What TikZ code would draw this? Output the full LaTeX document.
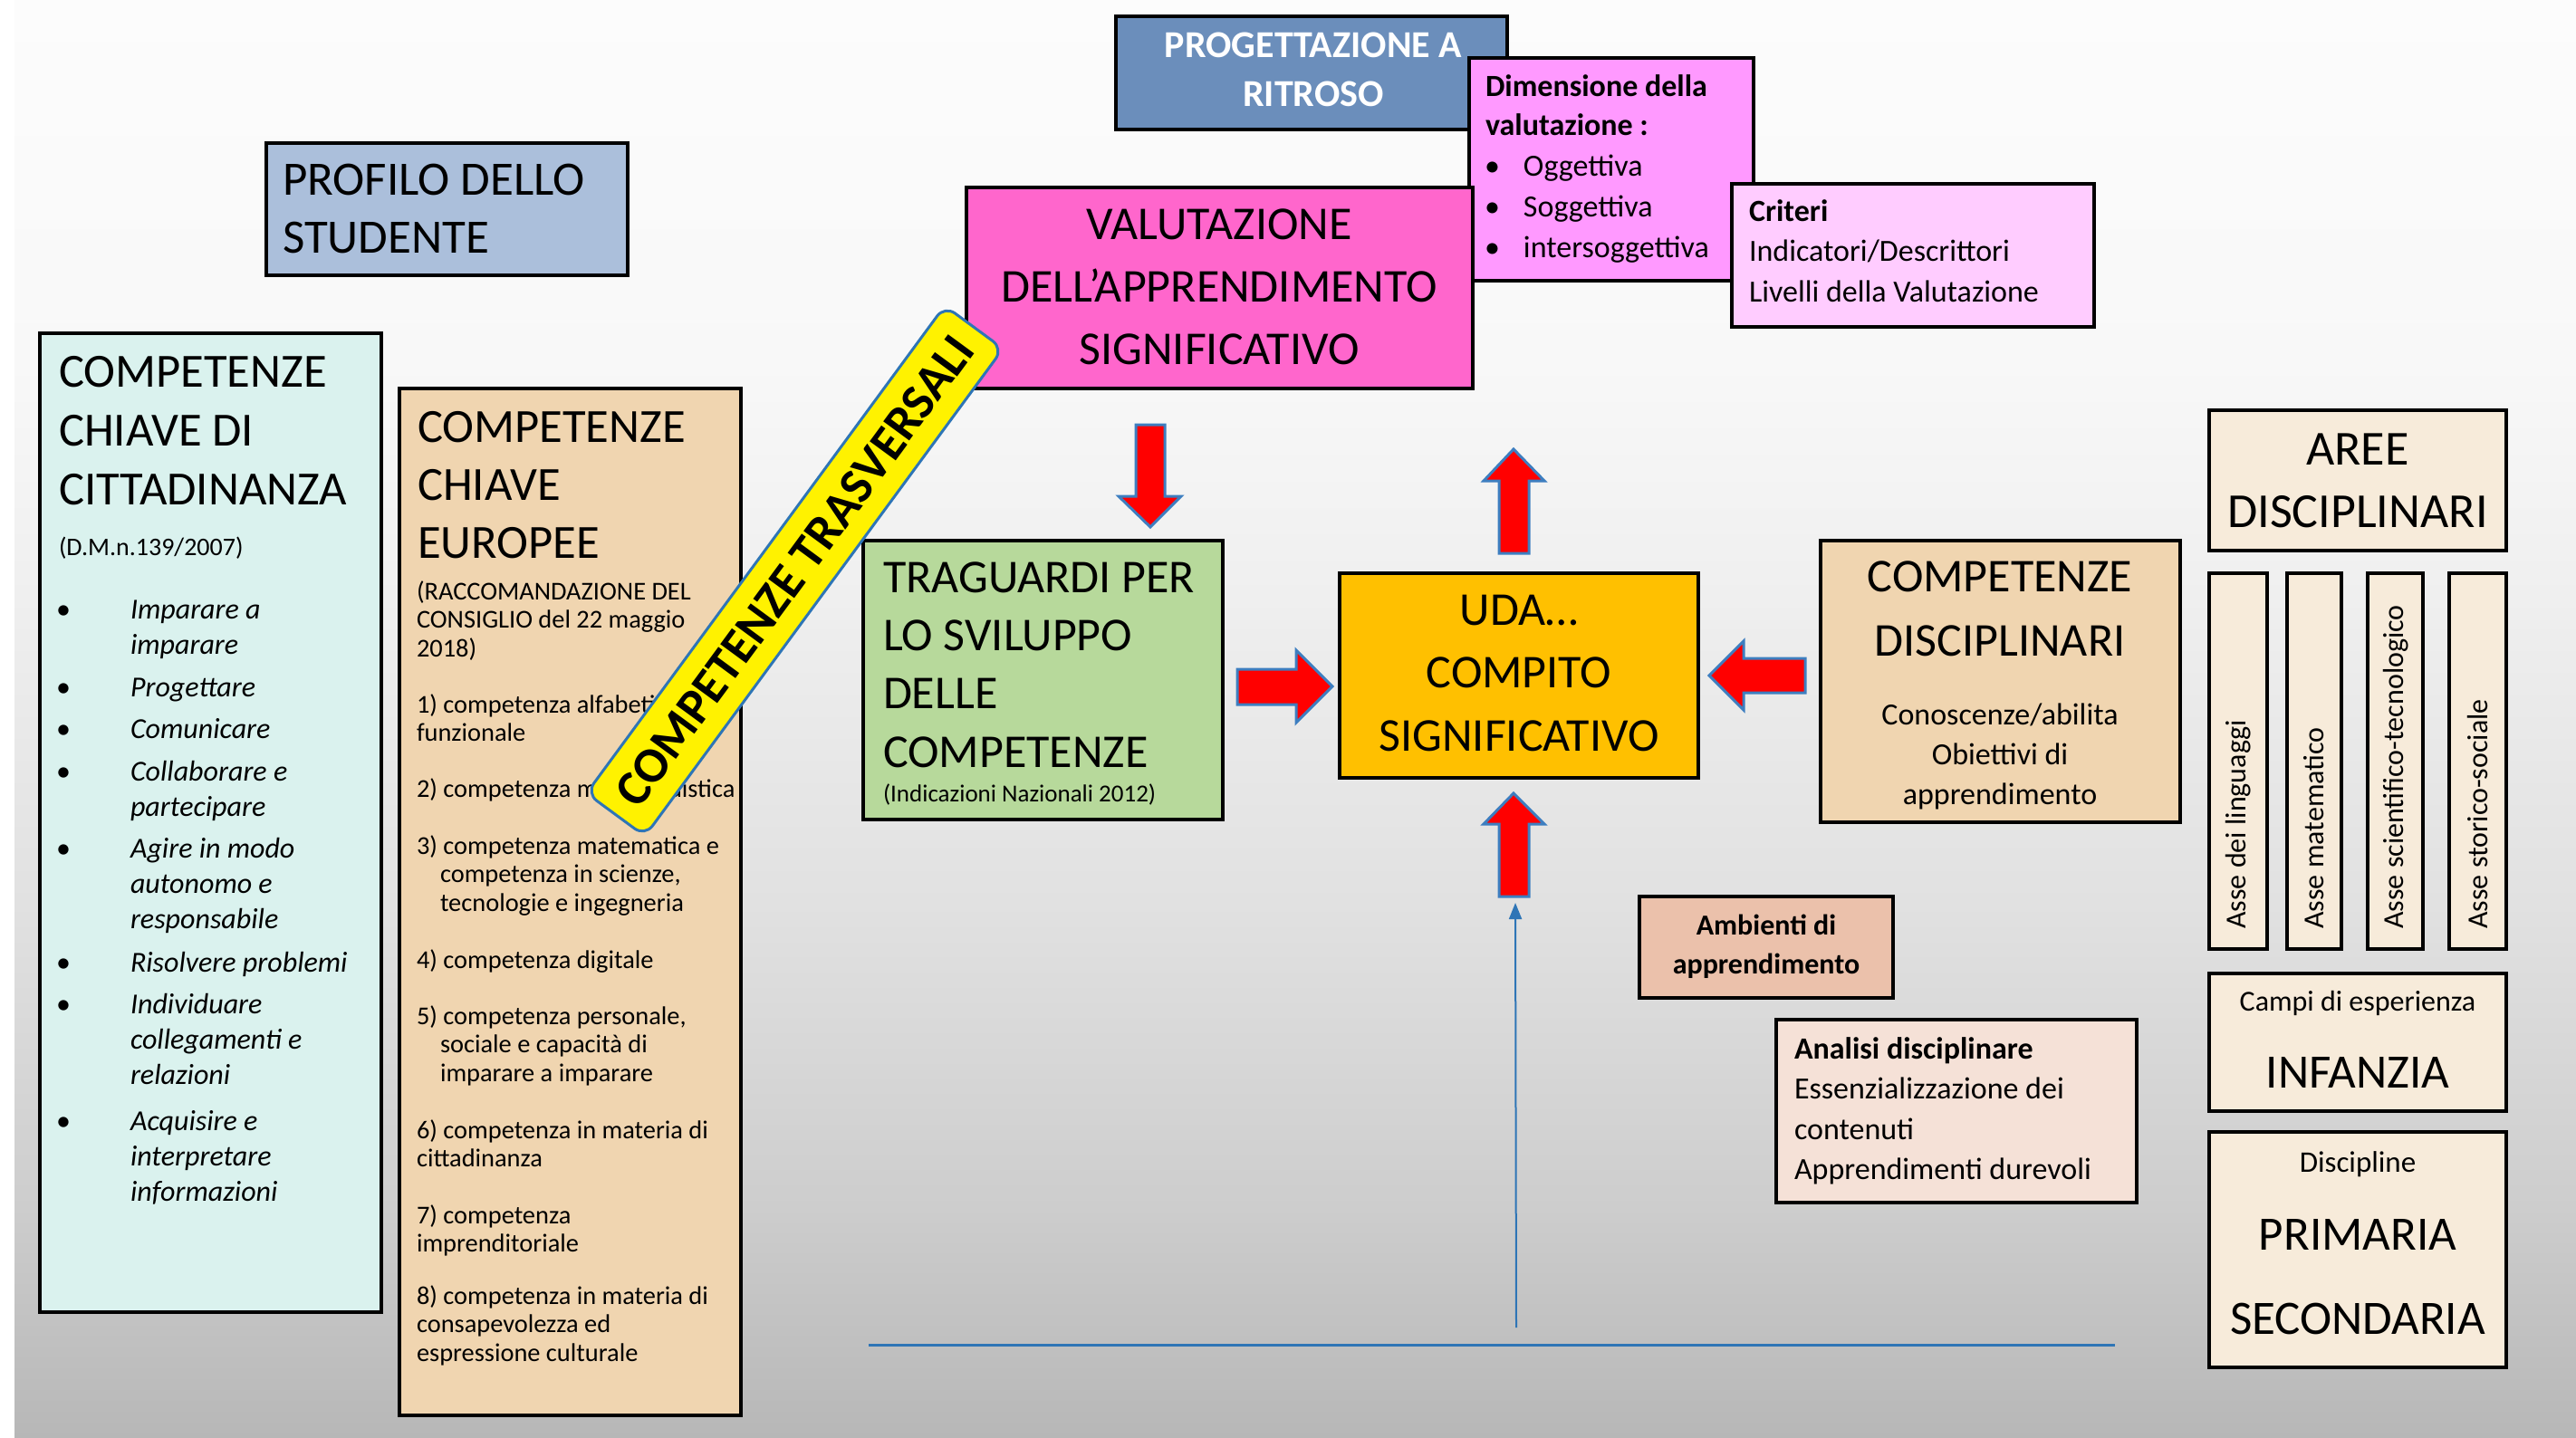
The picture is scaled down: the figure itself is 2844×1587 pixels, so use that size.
\documentclass[tikz,border=0pt]{standalone}
\usepackage{fontspec}
\setmainfont{Carlito}
\usetikzlibrary{arrows.meta}
\definecolor{bgA}{gray}{0.718}
\definecolor{bgB}{gray}{0.765}
\definecolor{bgC}{gray}{0.804}
\definecolor{bgD}{gray}{0.882}
\definecolor{bgE}{gray}{0.941}
\definecolor{bgF}{gray}{0.973}
\definecolor{bgG}{gray}{0.988}
\pgfdeclareverticalshading{bgshade}{100bp}{color(0bp)=(bgA); color(25bp)=(bgA); color(29.5bp)=(bgB); color(33bp)=(bgC); color(43.5bp)=(bgD); color(55bp)=(bgE); color(62.5bp)=(bgF); color(75bp)=(bgG); color(100bp)=(bgG)}
\definecolor{cProf}{HTML}{ABBFDB}
\definecolor{cCitt}{HTML}{DAF2EE}
\definecolor{cEuro}{HTML}{F0D5B0}
\definecolor{cProg}{HTML}{6B8EBB}
\definecolor{cDim}{HTML}{FF99FF}
\definecolor{cVal}{HTML}{FF66CC}
\definecolor{cCrit}{HTML}{FFCCFF}
\definecolor{cTrag}{HTML}{B7D99B}
\definecolor{cUda}{HTML}{FFC000}
\definecolor{cRight}{HTML}{F7EBDA}
\definecolor{cAmb}{HTML}{EBC1AB}
\definecolor{cAna}{HTML}{F5E1D7}
\definecolor{cBlue}{HTML}{2E75B6}
\definecolor{cArrow}{HTML}{3D7EC0}
\newcommand\fsz[2]{\fontsize{#1}{#2}\selectfont}
\newcommand\ML[1]{\begin{tabular}[t]{@{}l@{}}#1\end{tabular}}
\newcommand\MC[1]{\begin{tabular}[t]{@{}c@{}}#1\end{tabular}}
\newcommand\BL[1]{\begin{tabular}[t]{@{}l@{}l@{}}\makebox[41pt][l]{\upshape\textbullet}&#1\end{tabular}}
\newcommand\boxnode[6]{\node[box, fill=#2, minimum width={(#5-#3-4)*0.5pt}, minimum height={(#6-#4-4)*0.5pt}] (#1) at ({(#3+#5)/2},{(#4+#6)/2}) {};}
\tikzset{
  box/.style={draw=black, line width=2pt, inner sep=0pt, outer sep=0pt},
  t/.style={inner sep=0pt, outer sep=0pt, anchor=base west},
  tc/.style={inner sep=0pt, outer sep=0pt, anchor=base},
  blockarrow/.style={fill=red, draw=cArrow, line width=1.5pt, line join=miter},
  asse/.style={rotate=90, anchor=west, inner sep=0pt, font=\fsz{16}{18}}
}
\begin{document}
\begin{tikzpicture}[x=0.5pt, y=-0.5pt]
\useasboundingbox (0,0) rectangle (2844,1587);
\fill[white] (0,0) rectangle (2844,1587);
\shade[shading=bgshade] (16,0) rectangle (2844,1587);

% left column
\boxnode{profilo}{cProf}{292}{156}{695}{306}
\node[t, font=\fsz{26.5}{32}] (tprof) at (312,215) {\ML{PROFILO DELLO\\STUDENTE}};

\boxnode{citt}{cCitt}{42}{366}{423}{1451}
\node[t, font=\fsz{26.3}{32.5}] (tcitt) at (65,427) {\ML{COMPETENZE\\CHIAVE DI\\CITTADINANZA}};
\node[t, font=\fsz{14}{17}] (tdm) at (65,613) {(D.M.n.139/2007)};
\begin{scope}[every node/.style={t, font=\itshape\fsz{16}{19.5}}]
\node (ci1) at (62,683) {\BL{Imparare a\\&imparare}};
\node (ci2) at (62,769) {\BL{Progettare}};
\node (ci3) at (62,815) {\BL{Comunicare}};
\node (ci4) at (62,862) {\BL{Collaborare e\\&partecipare}};
\node (ci5) at (62,947) {\BL{Agire in modo\\&autonomo e\\&responsabile}};
\node (ci6) at (62,1073) {\BL{Risolvere problemi}};
\node (ci7) at (62,1119) {\BL{Individuare\\&collegamenti e\\&relazioni}};
\node (ci8) at (62,1248) {\BL{Acquisire e\\&interpretare\\&informazioni}};
\end{scope}

\boxnode{euro}{cEuro}{439}{427}{820}{1565}
\node[t, font=\fsz{26.3}{32}] (teuro) at (461,488) {\ML{COMPETENZE\\CHIAVE\\EUROPEE}};
\begin{scope}[every node/.style={t, font=\fsz{14.2}{15.75}}]
\node (eh) at (460,662) {\ML{(RACCOMANDAZIONE DEL\\CONSIGLIO del 22 maggio\\2018)}};
\node (e1) at (460,787) {\ML{1) competenza alfabetica\\funzionale}};
\node (e2) at (460,880) {\ML{2) competenza multilinguistica}};
\node (e3) at (460,943) {\ML{3) competenza matematica e\\\hspace*{13pt}competenza in scienze,\\\hspace*{13pt}tecnologie e ingegneria}};
\node (e4) at (460,1069) {\ML{4) competenza digitale}};
\node (e5) at (460,1131) {\ML{5) competenza personale,\\\hspace*{13pt}sociale e capacità di\\\hspace*{13pt}imparare a imparare}};
\node (e6) at (460,1257) {\ML{6) competenza in materia di\\cittadinanza}};
\node (e7) at (460,1351) {\ML{7) competenza\\imprenditoriale}};
\node (e8) at (460,1440) {\ML{8) competenza in materia di\\consapevolezza ed\\espressione culturale}};
\end{scope}

% top cluster
\boxnode{prog}{cProg}{1230}{16}{1666}{145}
\node[tc, text=white, font=\bfseries\fsz{21}{27}] (tprog) at (1450,63) {\MC{PROGETTAZIONE A\\RITROSO}};
\boxnode{dim}{cDim}{1620}{62}{1938}{312}
\node[t, font=\bfseries\fsz{17}{21.5}] (tdim1) at (1640,106) {\ML{Dimensione della\\valutazione :}};
\node[t, font=\fsz{17}{22.5}] (tdim2) at (1639,194) {\begin{tabular}[t]{@{}l@{}l@{}}\makebox[21.5pt][l]{\textbullet}&Oggettiva\\\textbullet&Soggettiva\\\textbullet&intersoggettiva\end{tabular}};
\boxnode{val}{cVal}{1065}{205}{1628}{431}
\node[tc, font=\fsz{26}{34.5}] (tval) at (1346,264) {\MC{VALUTAZIONE\\DELL’APPRENDIMENTO\\SIGNIFICATIVO}};
\boxnode{crit}{cCrit}{1910}{201}{2314}{363}
\node[t, font=\fsz{17}{22.3}] (tcrit) at (1931,244) {\ML{\textbf{Criteri}\\Indicatori/Descrittori\\Livelli della Valutazione}};

% middle row
\boxnode{trag}{cTrag}{951}{595}{1352}{907}
\node[t, font=\fsz{26}{32.2}] (ttrag) at (975,654) {\ML{TRAGUARDI PER\\LO SVILUPPO\\DELLE\\COMPETENZE}};
\node[t, font=\fsz{13.5}{16}] (tind) at (975,885) {(Indicazioni Nazionali 2012)};
\boxnode{uda}{cUda}{1477}{631}{1877}{861}
\node[tc, font=\fsz{26}{34.75}] (tuda) at (1677,690) {\MC{UDA…\\COMPITO\\SIGNIFICATIVO}};
\boxnode{cdisc}{cEuro}{2008}{595}{2409}{910}
\node[tc, font=\fsz{26}{35.5}] (tcd1) at (2208,653) {\MC{COMPETENZE\\DISCIPLINARI}};
\node[tc, font=\fsz{17}{22}] (tcd2) at (2208,800) {\MC{Conoscenze/abilita\\Obiettivi di\\apprendimento}};

% right column
\boxnode{aree}{cRight}{2437}{451}{2769}{610}
\node[tc, font=\fsz{27}{34.5}] (taree) at (2603,513) {\MC{AREE\\DISCIPLINARI}};
\boxnode{asse1}{cRight}{2437}{631}{2505}{1050}
\boxnode{asse2}{cRight}{2523}{631}{2587}{1050}
\boxnode{asse3}{cRight}{2612}{631}{2677}{1050}
\boxnode{asse4}{cRight}{2702}{631}{2769}{1050}
\node[asse] (ta1) at (2471,1026) {Asse dei linguaggi};
\node[asse] (ta2) at (2555,1026) {Asse matematico};
\node[asse] (ta3) at (2645,1026) {Asse scientifico-tecnologico};
\node[asse] (ta4) at (2735,1026) {Asse storico-sociale};
\boxnode{infa}{cRight}{2437}{1073}{2769}{1229}
\node[tc, font=\fsz{16}{19}] (tcampi) at (2603,1116) {Campi di esperienza};
\node[tc, font=\fsz{26.5}{32}] (tinf) at (2603,1201) {INFANZIA};
\boxnode{prim}{cRight}{2437}{1248}{2769}{1512}
\node[tc, font=\fsz{16.5}{19}] (tdisc) at (2603,1294) {Discipline};
\node[tc, font=\fsz{26.5}{46.5}] (tprim) at (2603,1380) {\MC{PRIMARIA\\SECONDARIA}};

% lower boxes
\boxnode{amb}{cAmb}{1808}{988}{2092}{1104}
\node[tc, font=\bfseries\fsz{16}{21.5}] (tamb) at (1950,1032) {\MC{Ambienti di\\apprendimento}};
\boxnode{ana}{cAna}{1959}{1124}{2361}{1330}
\node[t, font=\fsz{17}{22.3}] (tana) at (1981,1169) {\ML{\textbf{Analisi disciplinare}\\Essenzializzazione dei\\contenuti\\Apprendimenti durevoli}};

% block arrows
\draw[blockarrow] (1254,469) -- (1286,469) -- (1286,548) -- (1304,548) -- (1270,582) -- (1235,548) -- (1254,548) -- cycle;
\draw[blockarrow] (1655,611) -- (1688,611) -- (1688,531) -- (1705,531) -- (1671,496) -- (1638,531) -- (1655,531) -- cycle;
\draw[blockarrow] (1366,739) -- (1431,739) -- (1431,718) -- (1471,758) -- (1431,798) -- (1431,778) -- (1366,778) -- cycle;
\draw[blockarrow] (1993,727) -- (1925,727) -- (1925,708) -- (1887,746) -- (1925,784) -- (1925,765) -- (1993,765) -- cycle;
\draw[blockarrow] (1655,990) -- (1688,990) -- (1688,910) -- (1705,910) -- (1671,876) -- (1638,910) -- (1655,910) -- cycle;

% thin blue lines
\coordinate (lineL) at (959,1485);
\coordinate (lineR) at (2335,1485);
\draw[cBlue, line width=1.5pt] (lineL) -- (lineR);
\coordinate (thinS) at (1674,1466);
\coordinate (thinE) at (1673,997);
\draw[cBlue, line width=1pt, -{Triangle[width=7pt,length=9pt]}] (thinS) -- (thinE);

% banner
\node[draw=cBlue, line width=1.5pt, fill=yellow, rounded corners=7pt, rotate=53.7, minimum width=334pt, minimum height=40pt, inner sep=0pt, font=\bfseries\fsz{27.5}{30}] (trasv) at (877.5,630.5) {COMPETENZE TRASVERSALI};
\end{tikzpicture}
\end{document}
